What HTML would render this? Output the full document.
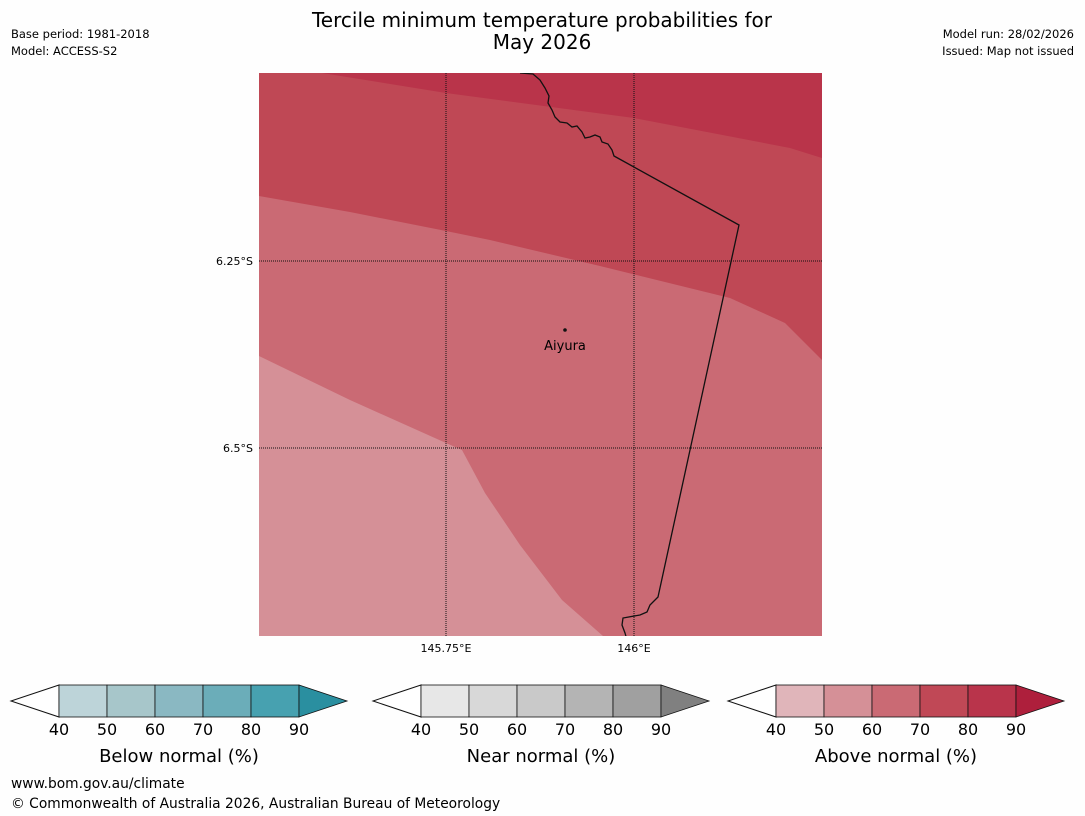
<!DOCTYPE html>
<html><head><meta charset="utf-8"><style>
body{margin:0;background:#fefefe;font-family:"Liberation Sans","DejaVu Sans",sans-serif;}
svg{display:block}
</style></head><body>
<svg id="c" width="1085" height="816" xmlns="http://www.w3.org/2000/svg" font-family="DejaVu Sans, Liberation Sans, sans-serif">
<rect width="1085" height="816" fill="#fefefe"/>
<text x="542" y="27" text-anchor="middle" font-size="20">Tercile minimum temperature probabilities for</text>
<text x="542" y="49" text-anchor="middle" font-size="20">May 2026</text>
<text x="11" y="38" font-size="11.5">Base period: 1981-2018</text>
<text x="11" y="55" font-size="11.5">Model: ACCESS-S2</text>
<text x="1074" y="38" font-size="11.5" text-anchor="end">Model run: 28/02/2026</text>
<text x="1074" y="55" font-size="11.5" text-anchor="end">Issued: Map not issued</text>
<g>
<clipPath id="mc"><rect x="259" y="73" width="563" height="563"/></clipPath>
<g clip-path="url(#mc)">
<rect x="259" y="73" width="563" height="563" fill="#bf4855"/>
<path d="M322,73 L446,93 L634,118 L790,148 L822,158 L822,73 Z" fill="#b9344a"/>
<path d="M259,196 L350,212 L446,231 L490,240 L600,266 L730,298 L785,323 L822,360 L822,636 L259,636 Z" fill="#ca6a74"/>
<path d="M259,356 L350,400 L446,443 L462,450 L485,493 L520,545 L562,600 L603,636 L259,636 Z" fill="#d59097"/>
<g stroke="#111" stroke-width="1" stroke-dasharray="1,1">
<line x1="446" y1="73" x2="446" y2="636"/><line x1="634" y1="73" x2="634" y2="636"/>
<line x1="259" y1="261" x2="822" y2="261"/><line x1="259" y1="448" x2="822" y2="448"/>
</g>
<path d="M520,73 L533,74 L540,80 L545,88 L549,96 L548,103 L552,110 L555,117 L560,122 L567,123 L572,127 L577,126 L582,132 L585,138 L590,137 L595,135 L600,137 L602,142 L608,144 L612,150 L614,156 L739,225 L658,597 L650,605 L647,612 L640,615 L623,618 L622,625 L625,633 L627,640" fill="none" stroke="#111" stroke-width="1.3"/>
</g>
<circle cx="565" cy="330" r="1.8" fill="#111"/>
<text x="565" y="350" font-size="13" text-anchor="middle">Aiyura</text>
<text x="253" y="265" font-size="11" text-anchor="end">6.25°S</text>
<text x="253" y="452" font-size="11" text-anchor="end">6.5°S</text>
<text x="446" y="652" font-size="11" text-anchor="middle">145.75°E</text>
<text x="634" y="652" font-size="11" text-anchor="middle">146°E</text>
</g>
<g id="bars"></g>
<text x="11" y="788" font-size="13.8">www.bom.gov.au/climate</text>
<text x="11" y="808" font-size="13.8">© Commonwealth of Australia 2026, Australian Bureau of Meteorology</text>
</svg>
<script>
const ticks=[40,50,60,70,80,90];
const titles=["Below normal (%)","Near normal (%)","Above normal (%)"];
const barNames=["below-normal","near-normal","above-normal"];
const colors=[["#bdd4d9","#a7c6ca","#8ab8c2","#6badb9","#47a1b0","#2a8fa0"],
["#e7e7e7","#d8d8d8","#c9c9c9","#b4b4b4","#a0a0a0","#808080"],
["#e0b5ba","#d59097","#ca6a74","#c04856","#b9344b","#ae1f3c"]];
const ns="http://www.w3.org/2000/svg";
const g=document.getElementById('bars');
const x0s=[59,421,776],seg=48,y=685,h=32;
function mk(t,a){const e=document.createElementNS(ns,t);for(const k in a)e.setAttribute(k,a[k]);g.appendChild(e);return e;}
for(let b=0;b<3;b++){
 const x0=x0s[b],x1=x0+seg*(ticks.length-1);
 const l=mk('polygon',{points:`${x0},${y} ${x0-48},${y+h/2} ${x0},${y+h}`,fill:'#fff',stroke:'#111','stroke-width':1});
 
 
 for(let i=0;i<ticks.length-1;i++){
  const r=mk('rect',{x:x0+i*seg,y:y,width:seg,height:h,fill:colors[b][i],stroke:'#111','stroke-width':0.8});
  
  
 }
 const a=mk('polygon',{points:`${x1},${y} ${x1+48},${y+h/2} ${x1},${y+h}`,fill:colors[b][5],stroke:'#111','stroke-width':0.8});
 
 
 ticks.forEach((t,i)=>{
  const tx=mk('text',{x:x0+i*seg,y:735,'font-size':16,'text-anchor':'middle'});
  tx.textContent=t;
  
  
 });
 const tt=mk('text',{x:(x0+x1)/2,y:762,'font-size':18,'text-anchor':'middle'});
 tt.textContent=titles[b];
 
 
}
</script>
</body></html>
